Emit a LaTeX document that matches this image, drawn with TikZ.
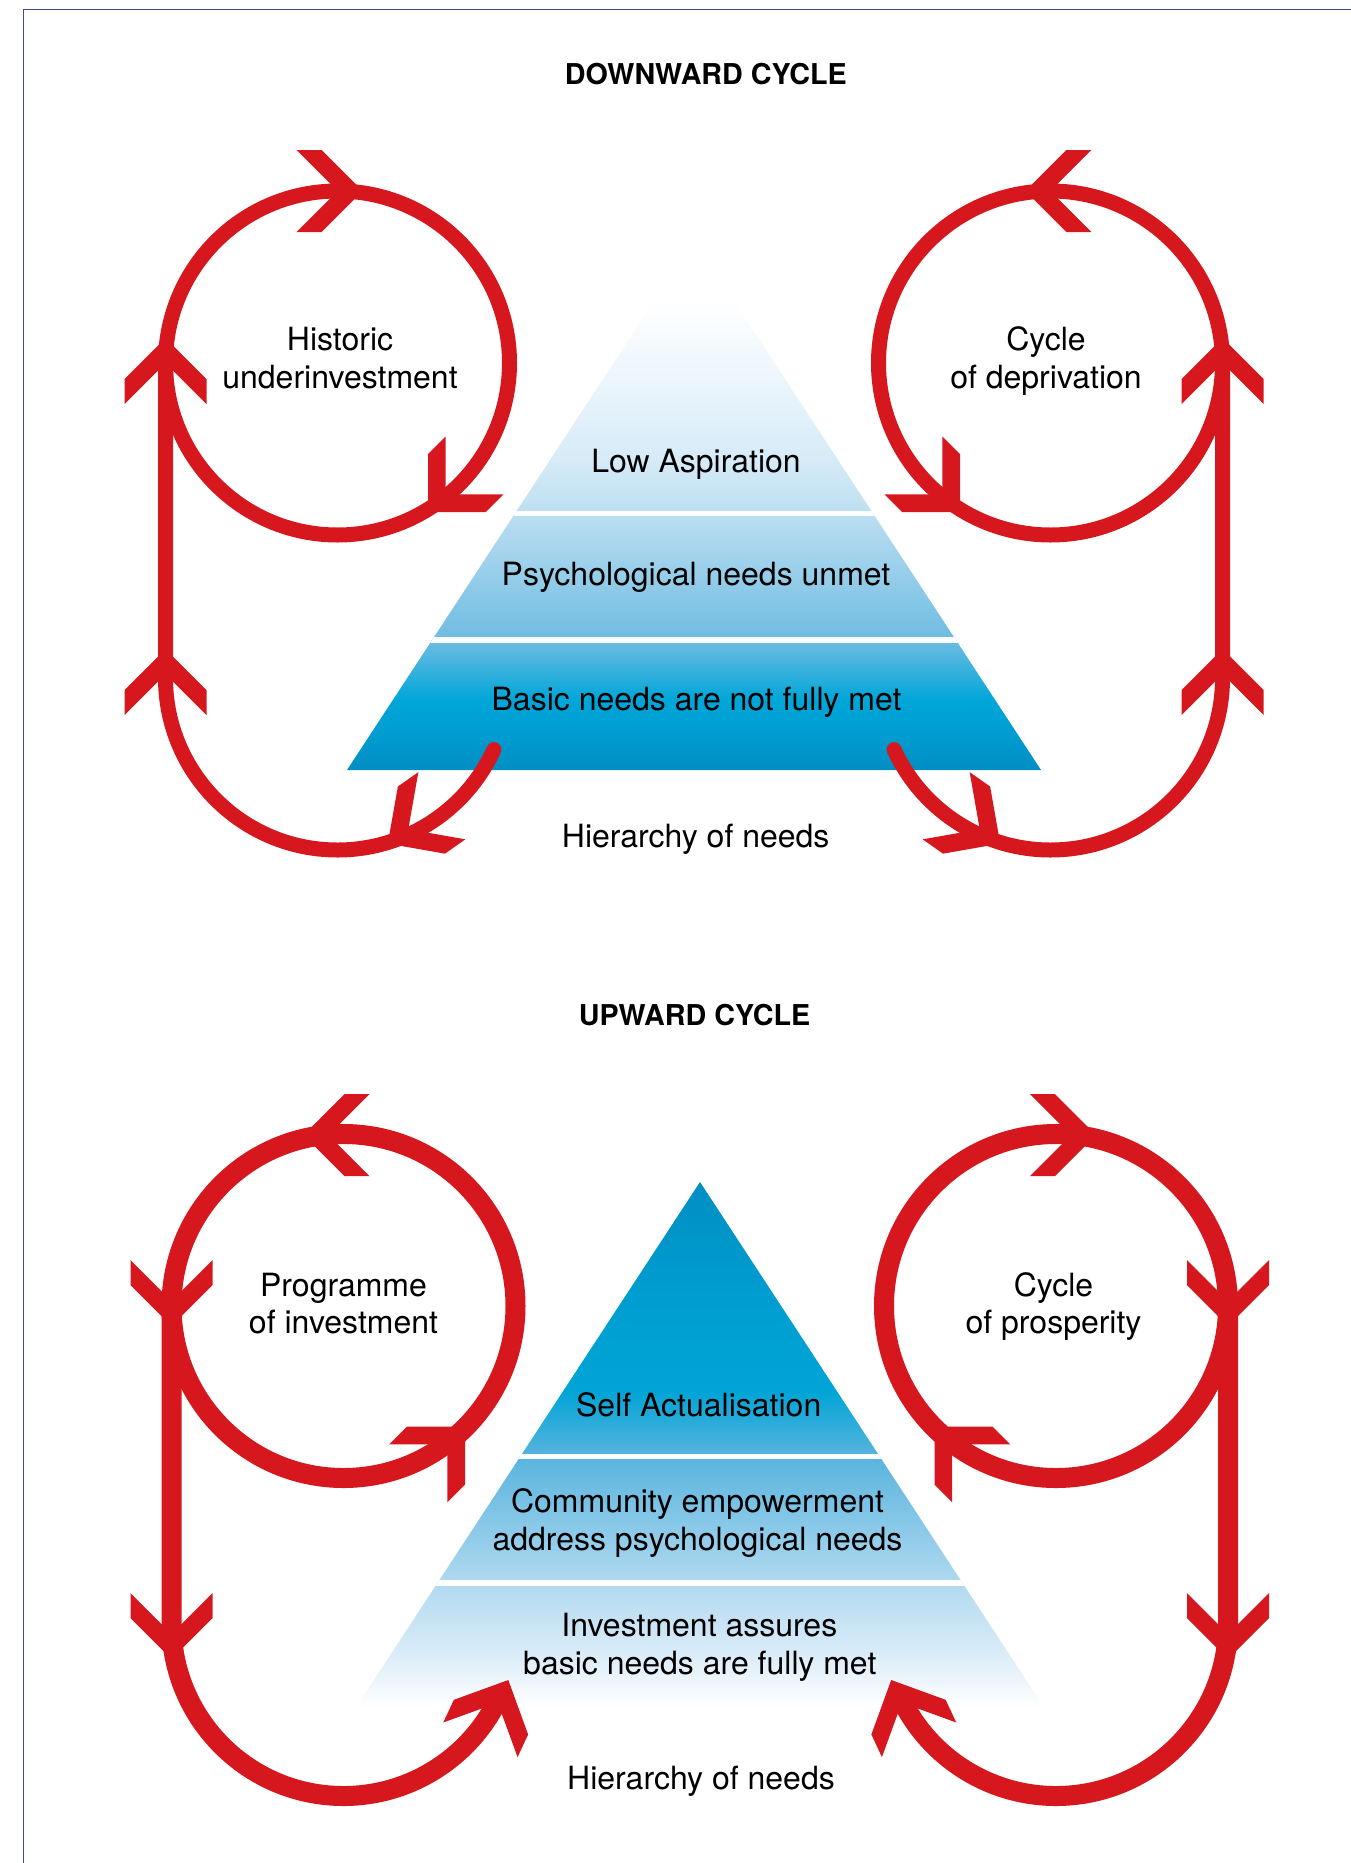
\documentclass[tikz,border=0pt]{standalone}
\usepackage{fontspec}
\setmainfont{TeX Gyre Heros}

\definecolor{cycred}{RGB}{214,24,30}
\definecolor{framecol}{RGB}{62,78,150}

% colours of the falling (downward) pyramid, bottom to top
\definecolor{pA}{RGB}{0,142,195}
\definecolor{pB}{RGB}{0,156,208}
\definecolor{pC}{RGB}{0,166,216}
\definecolor{pD}{RGB}{110,188,226}
\definecolor{pE}{RGB}{187,222,241}
\definecolor{pF}{RGB}{214,235,247}
\definecolor{pG}{RGB}{236,246,252}
\pgfdeclareverticalshading{fallshade}{100bp}{color(0bp)=(pA); color(25bp)=(pA); color(28.3bp)=(pB); color(31.6bp)=(pC); color(37.25bp)=(pD); color(49bp)=(pE); color(54.25bp)=(pF); color(62bp)=(pG); color(69.5bp)=(white); color(100bp)=(white)}

% colours of the rising (upward) pyramid, bottom to top
\definecolor{qA}{RGB}{0,142,196}
\definecolor{qB}{RGB}{0,158,208}
\definecolor{qC}{RGB}{0,164,214}
\definecolor{qD}{RGB}{90,180,222}
\definecolor{qE}{RGB}{176,217,240}
\definecolor{qF}{RGB}{218,236,248}
\pgfdeclareverticalshading{riseshade}{100bp}{color(0bp)=(white); color(25.5bp)=(white); color(30.5bp)=(qF); color(37.25bp)=(qE); color(49bp)=(qD); color(55.35bp)=(qC); color(63.85bp)=(qB); color(75bp)=(qA); color(100bp)=(qA)}

\begin{document}
\begin{tikzpicture}[x=1pt,y=1pt,
  thinloop/.style={draw=cycred, line width=15pt},
  thickloop/.style={draw=cycred, line width=20pt},
  lbl/.style={font=\fontsize{32}{38}\selectfont, inner sep=0pt, anchor=base, text=black},
  ttl/.style={font=\fontsize{28.7}{32}\selectfont\bfseries, inner sep=0pt, anchor=base, text=black},
  chev/.pic={\fill[cycred] (0,0) -- (-41,41) -- (-66,41) -- (-25,0) -- (-66,-41) -- (-41,-41) -- cycle;}
]
\useasboundingbox (0,0) rectangle (1351,-1863);

% page frame (top and left rules)
\draw[framecol, line width=1.5pt] (23.5,-1863) -- (23.5,-9.5) -- (1351,-9.5);

% ---------------- downward cycle ----------------
\node[ttl] (downtitle) at (705.8,-84.4) {DOWNWARD CYCLE};

\coordinate (topApex) at (694,-240);
\coordinate (topBL) at (347,-770);
\coordinate (topBR) at (1041,-770);
\begin{scope}
  \clip (topApex) -- (topBL) -- (topBR) -- cycle;
  \shade[shading=fallshade] (topBL) rectangle (1041,-240);
  \fill[white] (300,-511) rectangle (1100,-516);
  \fill[white] (300,-637) rectangle (1100,-643);
\end{scope}

\node[lbl] (lowasp) at (696,-472.9) {Low Aspiration};
\node[lbl] (psyunmet) at (696,-585.8) {Psychological needs unmet};
\node[lbl] (basicnot) at (696.5,-710.5) {Basic needs are not fully met};
\node[lbl] (hiertop) at (695.7,-847) {Hierarchy of needs};

\node[lbl] (hist1) at (340,-350.7) {Historic};
\node[lbl] (hist2) at (340,-388.3) {underinvestment};
\node[lbl] (depr1) at (1046,-350.7) {Cycle};
\node[lbl] (depr2) at (1046,-388.3) {of deprivation};

% left loop: circle, rising rule and lower arc out of the pyramid
\coordinate (c1) at (337.5,-363);
\coordinate (l1top) at (165.5,-363);
\coordinate (l1bot) at (165.5,-678);
\draw[thinloop] (c1) circle[radius=172];
\draw[thinloop, line cap=round] (l1top) -- (l1bot) arc[start angle=180, end angle=335.4, radius=172];

% right loop
\coordinate (c2) at (1050.5,-363);
\coordinate (r1top) at (1222.5,-363);
\coordinate (r1bot) at (1222.5,-678);
\draw[thinloop] (c2) circle[radius=172];
\draw[thinloop, line cap=round] (r1top) -- (r1bot) arc[start angle=0, end angle=-155.4, radius=172];

% arrowheads of the downward cycle
\pic[rotate=0]   at (362.7,-191)   {chev};
\pic[rotate=225] at (428,-512)     {chev};
\pic[rotate=90]  at (165.5,-338)   {chev};
\pic[rotate=90]  at (165.5,-649)   {chev};
\pic[rotate=215] at (387.8,-843.6) {chev};
\pic[rotate=180] at (1025.3,-191)  {chev};
\pic[rotate=-45] at (960,-512)     {chev};
\pic[rotate=90]  at (1222.5,-338)  {chev};
\pic[rotate=90]  at (1222.5,-649)  {chev};
\pic[rotate=-35] at (1000.2,-843.6) {chev};

% ---------------- upward cycle ----------------
\node[ttl] (uptitle) at (694.5,-1025.4) {UPWARD CYCLE};

\coordinate (botApex) at (700,-1182);
\coordinate (botBL) at (353,-1712);
\coordinate (botBR) at (1047,-1712);
\begin{scope}
  \clip (botApex) -- (botBL) -- (botBR) -- cycle;
  \shade[shading=riseshade] (botBL) rectangle (1047,-1182);
  \fill[white] (300,-1454) rectangle (1100,-1459);
  \fill[white] (300,-1580) rectangle (1100,-1586);
\end{scope}

\node[lbl] (selfact) at (698.7,-1416) {Self Actualisation};
\node[lbl] (comm1) at (697.5,-1512.6) {Community empowerment};
\node[lbl] (comm2) at (697.5,-1550.6) {address psychological needs};
\node[lbl] (inv1) at (699.3,-1636) {Investment assures};
\node[lbl] (inv2) at (699.8,-1674) {basic needs are fully met};
\node[lbl] (hierbot) at (701,-1789.4) {Hierarchy of needs};

\node[lbl] (prog1) at (343.5,-1296.7) {Programme};
\node[lbl] (prog2) at (343.5,-1333.3) {of investment};
\node[lbl] (pros1) at (1053.5,-1296.7) {Cycle};
\node[lbl] (pros2) at (1053.5,-1333.3) {of prosperity};

% left loop
\coordinate (c3) at (343.5,-1306);
\coordinate (l3top) at (171.5,-1306);
\coordinate (l3bot) at (171.5,-1624);
\draw[thickloop] (c3) circle[radius=172];
\draw[thickloop] (l3top) -- (l3bot) arc[start angle=180, end angle=336.5, radius=172];

% right loop
\coordinate (c4) at (1056,-1306);
\coordinate (r3top) at (1228,-1306);
\coordinate (r3bot) at (1228,-1624);
\draw[thickloop] (c4) circle[radius=172];
\draw[thickloop] (r3top) -- (r3bot) arc[start angle=0, end angle=-156.5, radius=172];

% arrowheads of the upward cycle
\pic[rotate=180] at (303.5,-1135)  {chev};
\pic[rotate=270] at (171.5,-1326)  {chev};
\pic[rotate=45]  at (465,-1426.7)  {chev};
\pic[rotate=270] at (171.5,-1659)  {chev};
\pic[rotate=65]  at (508.3,-1680)  {chev};
\pic[rotate=0]   at (1096,-1135)   {chev};
\pic[rotate=270] at (1228,-1326)   {chev};
\pic[rotate=135] at (934.5,-1426.7) {chev};
\pic[rotate=270] at (1228,-1659)   {chev};
\pic[rotate=115] at (891.2,-1680)  {chev};
\end{tikzpicture}
\end{document}
